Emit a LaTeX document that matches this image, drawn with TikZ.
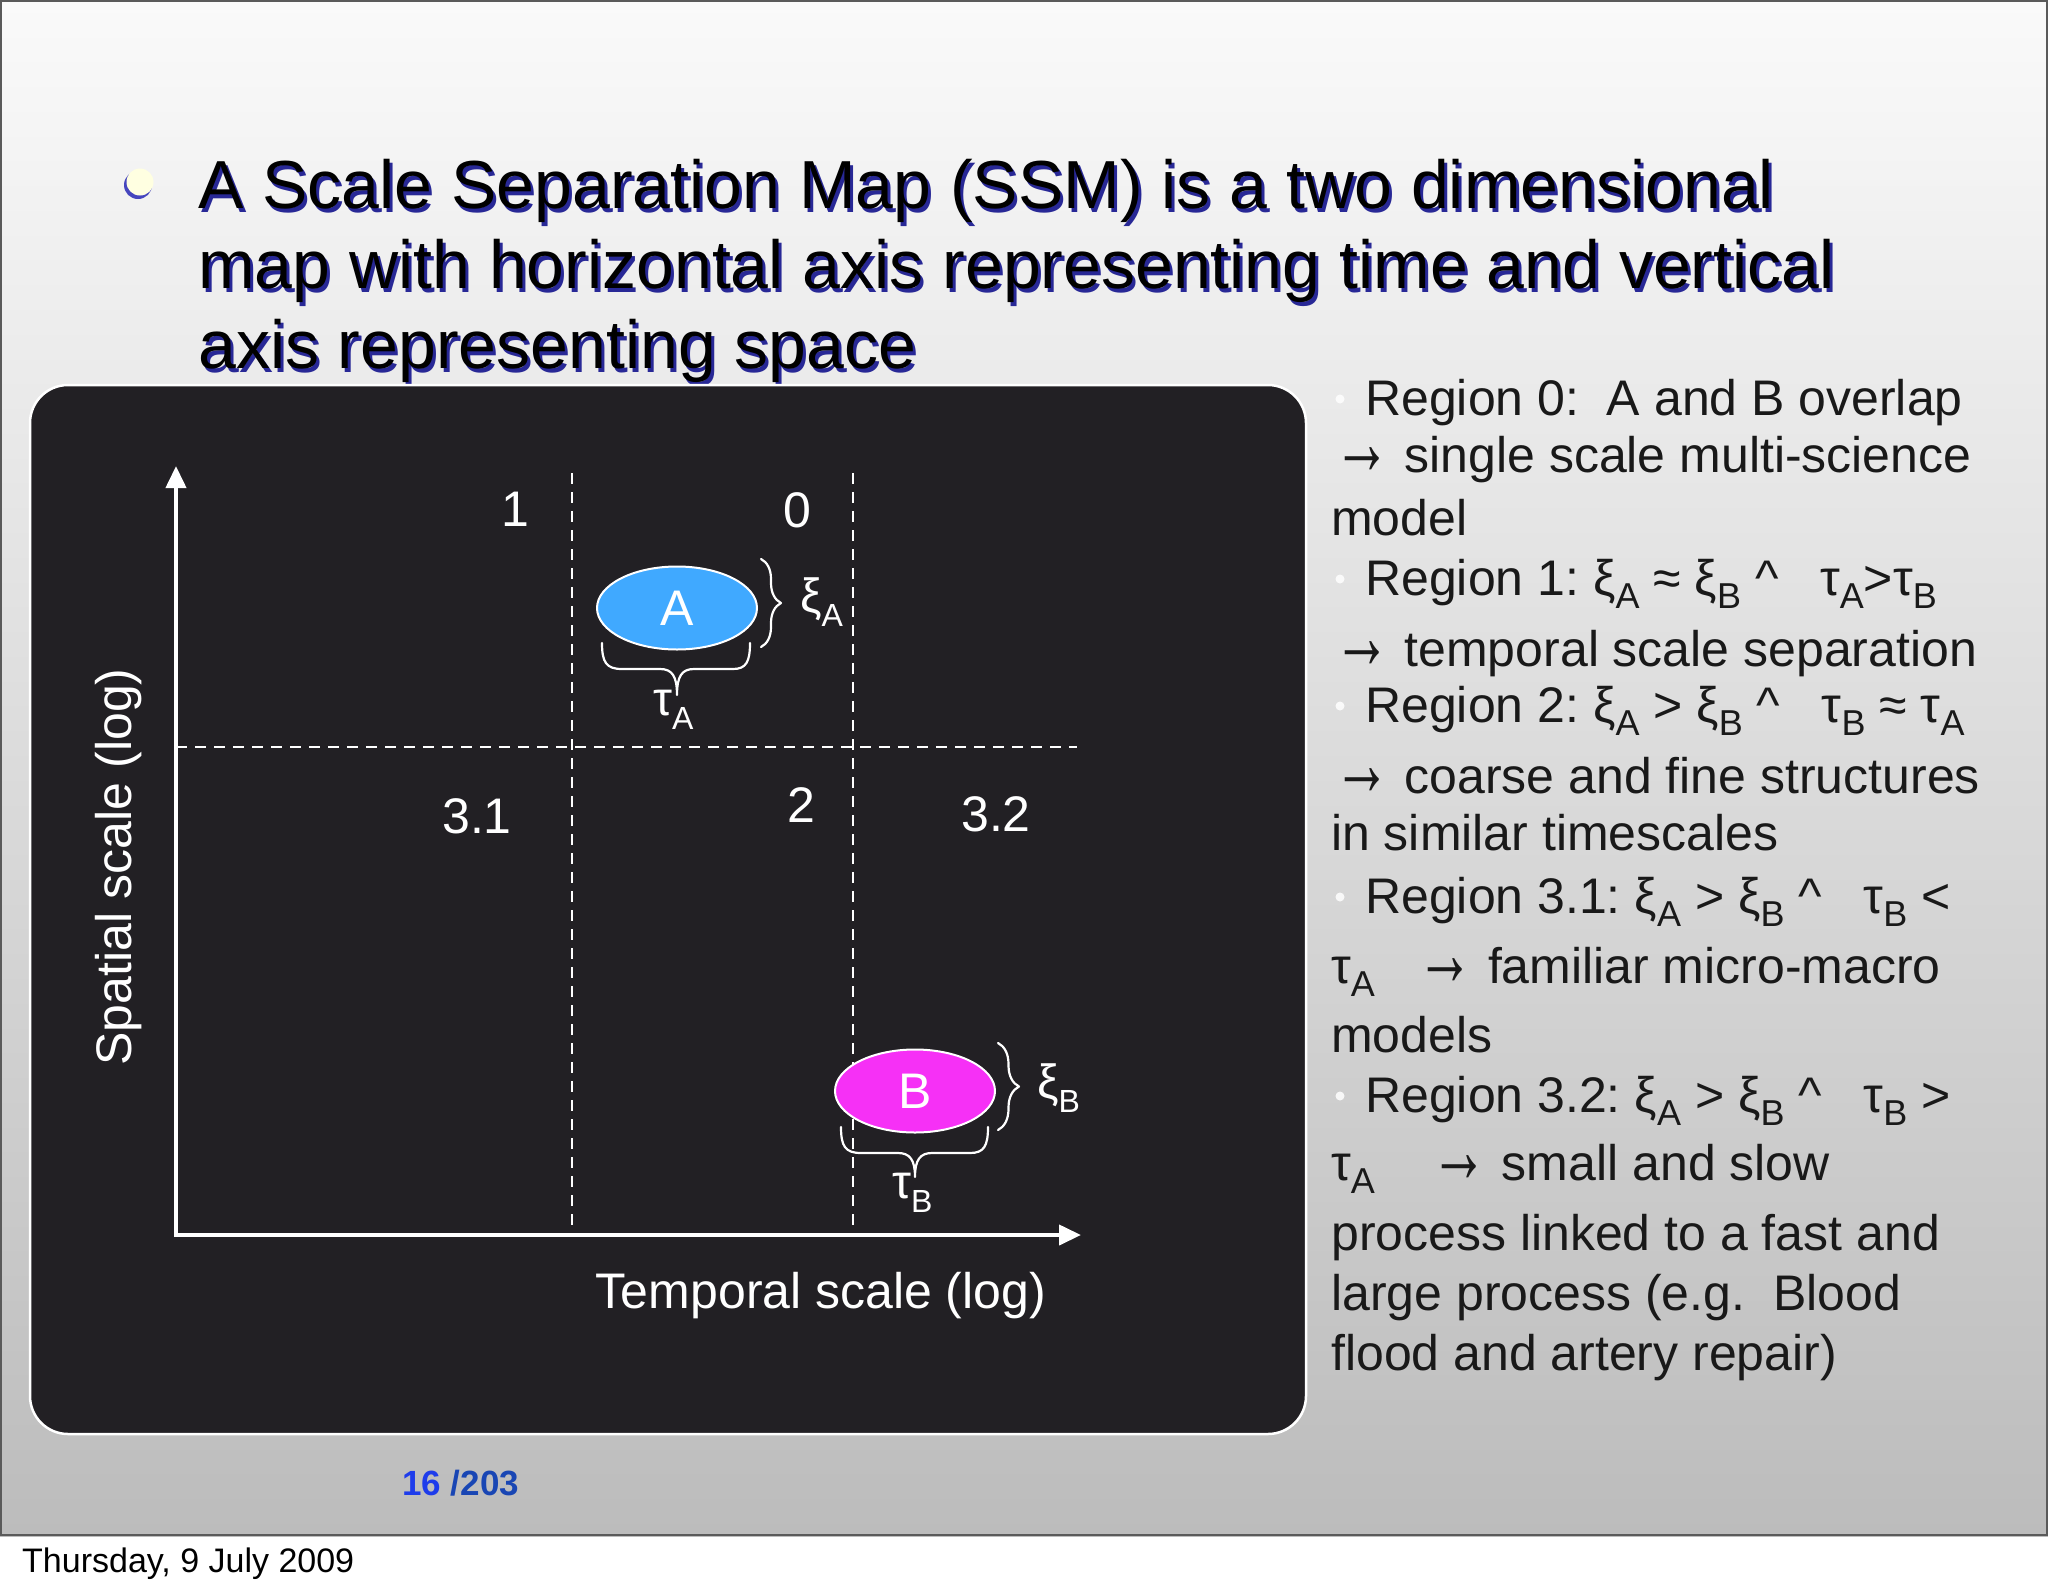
\documentclass[tikz,border=0pt]{standalone}
\usepackage{fontspec}
\setmainfont{Liberation Sans}
\usetikzlibrary{arrows.meta,shapes.geometric,decorations.pathreplacing}
\definecolor{panel}{RGB}{34,32,36}
\definecolor{ablue}{RGB}{64,169,255}
\definecolor{bmag}{RGB}{246,48,246}
\definecolor{txt}{RGB}{25,25,25}
\definecolor{tshadow}{RGB}{40,40,150}
\definecolor{bshadow}{RGB}{70,70,190}
\definecolor{pgnum}{RGB}{30,60,235}
\definecolor{pgtot}{RGB}{25,70,180}
\definecolor{bgtop}{RGB}{250,250,250}
\definecolor{bgbot}{RGB}{188,188,188}
\definecolor{bulletc}{RGB}{255,255,225}
\definecolor{slideframe}{RGB}{90,90,90}
\newcommand\rsub[1]{\raisebox{-13pt}{\fontsize{36}{36}\selectfont #1}}
\newcommand\lsub[1]{\raisebox{-14pt}{\fontsize{32}{32}\selectfont #1}}
\newcommand\rarr{\raisebox{-2pt}{\scalebox{1.15}[1.9]{\bfseries →}}}
\begin{document}
\frenchspacing
\begin{tikzpicture}[x=1pt,y=-1pt,
  titletext/.style={anchor=base west,inner sep=0,font=\fontsize{68}{80}\selectfont},
  rtext/.style={anchor=base west,inner sep=0,font=\fontsize{50}{60}\selectfont,text=txt},
  wlabel/.style={anchor=base,inner sep=0,font=\fontsize{50}{60}\selectfont,text=white},
  glabel/.style={anchor=base west,inner sep=0,font=\fontsize{48}{58}\selectfont,text=white},
  axisline/.style={draw=white,line width=4pt,{Triangle[length=22pt,width=20pt]}-{Triangle[length=22pt,width=20pt]}},
  sepline/.style={draw=white,line width=2.5pt,dash pattern=on 11pt off 8pt},
  brc/.style={draw=white,line width=2.2pt,line cap=round,line join=round},
  region/.style={ellipse,draw=white,line width=2pt,inner sep=0,minimum width=160pt,minimum height=83pt,font=\fontsize{50}{60}\selectfont,text=white},
  rdot/.style={circle,fill=white,inner sep=0,minimum size=9pt,opacity=0.85}
]
\useasboundingbox (0,0) rectangle (2048,1593);
\fill[white] (0,0) rectangle (2048,1593);
\shade[top color=bgtop,bottom color=bgbot] (0,0) rectangle (2048,1536);
\draw[slideframe,line width=2pt] (1,1) rectangle (2047,1535);

% title
\node[circle,fill=bshadow,minimum size=28pt,inner sep=0] (bs) at (138,185) {};
\node[circle,fill=bulletc,minimum size=27pt,inner sep=0] (b) at (140,182) {};
\node[titletext,text=tshadow] (t1s) at (201,212) {A Scale Separation Map (SSM) is a two dimensional};
\node[titletext,text=tshadow] (t2s) at (201,292) {map with horizontal axis representing time and vertical};
\node[titletext,text=tshadow] (t3s) at (201,372) {axis representing space};
\node[titletext] (t1) at (198,208) {A Scale Separation Map (SSM) is a two dimensional};
\node[titletext] (t2) at (198,288) {map with horizontal axis representing time and vertical};
\node[titletext] (t3) at (198,368) {axis representing space};

% panel
\draw[white,line width=2.5pt,fill=panel,rounded corners=38pt] (30,385) rectangle (1306,1434);

\coordinate (O) at (176,1235);
\coordinate (Ytip) at (176,466);
\coordinate (Xtip) at (1081,1235);
\coordinate (h1) at (176,747);
\coordinate (h2) at (1077,747);
\coordinate (v1t) at (572,473);
\coordinate (v1b) at (572,1235);
\coordinate (v2t) at (853,473);
\coordinate (v2b) at (853,1235);

\draw[sepline] (h1) -- (h2);
\draw[sepline] (v1t) -- (v1b);
\draw[sepline] (v2t) -- (v2b);
\draw[axisline] (Ytip) -- (O) -- (Xtip);

\node[wlabel] (l1) at (515,526) {1};
\node[wlabel] (l0) at (797,527) {0};
\node[wlabel] (l31) at (477,833) {3.1};
\node[wlabel] (l2) at (801,822) {2};
\node[wlabel] (l32) at (996,831) {3.2};
\node[wlabel] (tl) at (821,1308) {Temporal scale (log)};
\node[wlabel,rotate=90] (sl) at (131,867) {Spatial scale (log)};

\node[region,fill=ablue] (A) at (677,608) {A};
\node[region,fill=bmag] (B) at (915,1091) {B};

\draw[brc,decorate,decoration={brace,amplitude=20pt}] (761,559) -- (761,647);
\draw[brc,decorate,decoration={brace,amplitude=21pt}] (998,1043) -- (998,1130);
\draw[brc] (602,643) .. controls (602,662) and (606,669) .. (622,669) -- (660,669) .. controls (672,669) and (677,676) .. (677,695) .. controls (677,676) and (682,669) .. (694,669) -- (733,669) .. controls (746,669) and (750,662) .. (750,643);
\draw[brc] (841,1127) .. controls (841,1146) and (845,1153) .. (861,1153) -- (898,1153) .. controls (910,1153) and (915,1160) .. (915,1177) .. controls (915,1160) and (920,1153) .. (932,1153) -- (970,1153) .. controls (984,1153) and (988,1146) .. (988,1127);

\node[glabel] (xiA) at (800,612) {ξ\lsub{A}};
\node[glabel] (tauA) at (653,715) {τ\lsub{A}};
\node[glabel] (xiB) at (1037,1098) {ξ\lsub{B}};
\node[glabel] (tauB) at (892,1198) {τ\lsub{B}};

% right text
\node[rdot] (d0) at (1340,399) {};
\node[rtext] (r0) at (1365,415) {Region 0:\ \ A and B overlap};
\node[rtext] (r0b) at (1333,472) {\rarr\ single scale multi-science};
\node[rtext] (r0c) at (1331,535) {model};
\node[rdot] (d1) at (1340,579) {};
\node[rtext] (r1) at (1365,595) {Region 1: ξ\rsub{A} ≈ ξ\rsub{B} \textasciicircum\ \ \ τ\rsub{A}>τ\rsub{B}};
\node[rtext] (r1b) at (1333,666) {\rarr\ temporal scale separation};
\node[rdot] (d2) at (1340,706) {};
\node[rtext] (r2) at (1365,722) {Region 2: ξ\rsub{A} > ξ\rsub{B} \textasciicircum\ \ \ τ\rsub{B} ≈ τ\rsub{A}};
\node[rtext] (r2b) at (1333,793) {\rarr\ coarse and fine structures};
\node[rtext] (r2c) at (1331,850) {in similar timescales};
\node[rdot] (d3) at (1340,897) {};
\node[rtext] (r3) at (1365,913) {Region 3.1: ξ\rsub{A} > ξ\rsub{B} \textasciicircum\ \ \ τ\rsub{B} <};
\node[rtext] (r3b) at (1331,983) {τ\rsub{A}\ \ \ \rarr\ familiar micro-macro};
\node[rtext] (r3c) at (1331,1052) {models};
\node[rdot] (d4) at (1340,1096) {};
\node[rtext] (r4) at (1365,1112) {Region 3.2: ξ\rsub{A} > ξ\rsub{B} \textasciicircum\ \ \ τ\rsub{B} >};
\node[rtext] (r4b) at (1331,1180) {τ\rsub{A}\ \ \ \ \rarr\ small and slow};
\node[rtext] (r4c) at (1331,1250) {process linked to a fast and};
\node[rtext] (r4d) at (1331,1310) {large process (e.g.\ \ Blood};
\node[rtext] (r4e) at (1331,1370) {flood and artery repair)};

% footer
\node[anchor=base west,inner sep=0,font=\bfseries\fontsize{35}{40}\selectfont] (pg) at (402,1495) {\textcolor{pgnum}{16} \textcolor{pgtot}{/203}};
\node[anchor=base west,inner sep=0,font=\fontsize{34}{40}\selectfont] (date) at (22,1572) {Thursday, 9 July 2009};
\end{tikzpicture}
\end{document}
